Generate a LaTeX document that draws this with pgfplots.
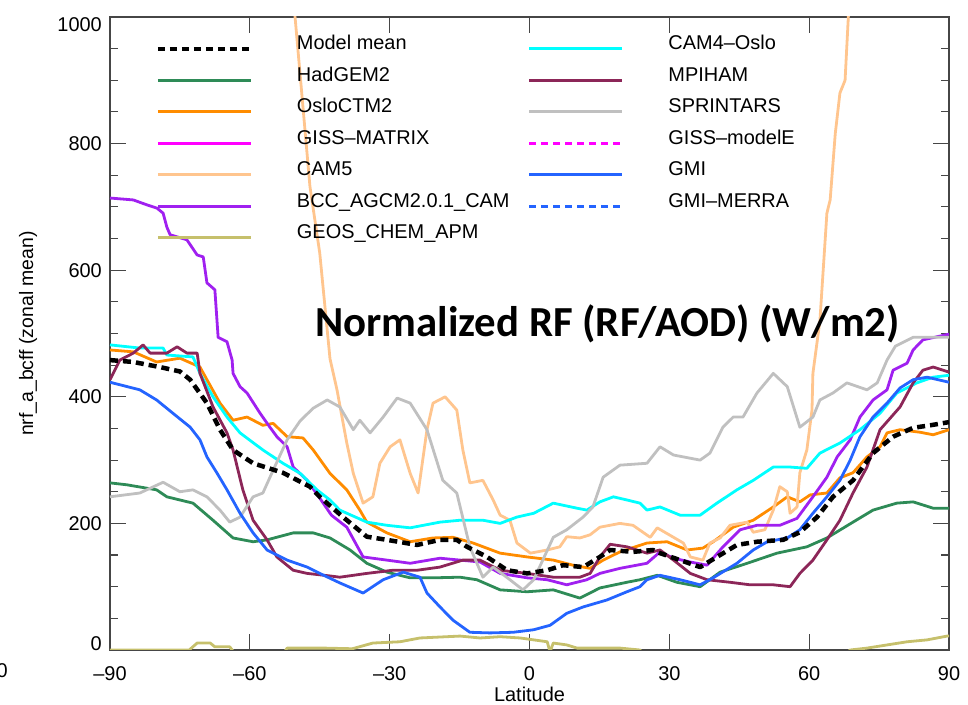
\documentclass[border=0pt]{standalone}
\usepackage{fontspec}
\setmainfont{Liberation Sans}
\newfontfamily\calibri{Carlito}
\usepackage{pgfplots}
\pgfplotsset{compat=1.18}

\definecolor{hadgem}{RGB}{46,139,87}
\definecolor{oslo}{RGB}{255,140,0}
\definecolor{gissm}{RGB}{255,0,255}
\definecolor{camfive}{RGB}{255,197,142}
\definecolor{bcc}{RGB}{160,32,240}
\definecolor{geos}{RGB}{198,192,108}
\definecolor{camfour}{RGB}{0,255,255}
\definecolor{mpi}{RGB}{140,38,88}
\definecolor{sprint}{RGB}{192,192,192}
\definecolor{gmi}{RGB}{36,100,255}
\definecolor{axgray}{RGB}{70,70,70}

\newcommand{\lt}[1]{\makebox[231bp][l]{\rule[-5bp]{0pt}{20bp}#1}}

\begin{document}
\begin{tikzpicture}
\path[use as bounding box] (-110bp,-55bp) rectangle (858bp,650bp);
\begin{axis}[
    width=839bp, height=633bp, scale only axis,
    xmin=-90, xmax=90, ymin=0, ymax=1000,
    xtick={-90,-60,-30,0,30,60,90},
    xticklabels={–90,–60,–30,0,30,60,90},
    ytick={0,200,400,600,800,1000},
    yticklabels={\raisebox{6.5bp}{0},200,400,600,800,\raisebox{-7bp}{1000}},
    minor y tick num=3,
    tick pos=both, tick align=inside,
    major tick length=16bp, minor tick length=8bp,
    tick style={axgray, line width=1.1bp},
    axis line style={axgray, line width=1.4bp},
    ticklabel style={font=\fontsize{20}{24}\selectfont},
    xticklabel style={anchor=base, inner sep=0pt, yshift=-30bp},
    yticklabel style={anchor=base east, inner sep=0pt, xshift=-8bp, yshift=-7.2bp},
    xlabel={Latitude},
    ylabel={nrf\_a\_bcff (zonal mean)},
    every axis x label/.style={at={(axis description cs:0.5,-0.0821)}, anchor=base,
        inner sep=0pt, font=\fontsize{20}{24}\selectfont},
    every axis y label/.style={at={(axis description cs:-0.0977,0.5)}, rotate=90, anchor=center,
        inner sep=0pt, font=\fontsize{19.5}{24}\selectfont},
    every axis plot/.append style={line width=2.8bp, line join=round},
    legend columns=2,
    legend image code/.code={\draw[#1] (0bp,1bp) -- (93bp,1bp); \path[draw=none] (0bp,0bp) (139bp,0bp);},
    legend style={at={(axis description cs:0.0545,0.9716)}, anchor=north west,
        draw=none, fill=none, inner sep=0pt, outer sep=0pt,
        column sep=0pt, row sep=15bp,
        cells={anchor=base west},
        nodes={inner sep=0pt},
        font=\fontsize{20}{24}\selectfont},
]
% HadGEM2
\addplot[hadgem, forget plot] coordinates {(-90,264)(-86.4,261)(-80,253)(-77.8,242)(-72.2,232)(-67.9,205)(-63.6,177)(-59.3,171)(-56.3,174)(-50.7,185)(-46.4,185)(-42.8,177)(-38.5,158)(-34.9,137)(-30.6,123)(-25.6,114)(-20.7,114)(-14.9,115)(-11.3,111)(-6.3,95)(-0.5,92)(5.1,95)(10.8,82)(15.1,98)(20.9,107)(23.7,111)(27.4,118)(31.6,107)(36.6,100)(40.9,123)(46.7,137)(53.1,153)(59.5,163)(63.8,177)(69.4,202)(73.7,221)(78.8,232)(82.3,234)(86.6,224)(90,224)};
% OsloCTM2
\addplot[oslo, forget plot] coordinates {(-90,474)(-85,471)(-80,455)(-75,461)(-70.7,447)(-69.2,427)(-66.4,390)(-63.6,363)(-60.6,368)(-57.2,355)(-55,358)(-52,337)(-48.6,335)(-46.4,316)(-42.8,279)(-39.2,253)(-36.4,221)(-34.9,202)(-30.6,185)(-25.6,171)(-20.7,177)(-16.4,178)(-12.1,169)(-6.3,153)(-0.5,147)(5.1,142)(9.3,134)(13,129)(15.8,142)(19.4,155)(25.2,169)(29.5,171)(33.8,158)(37.2,161)(39.4,171)(43.7,194)(48,205)(52.3,226)(55.3,242)(58,234)(60.2,245)(63.8,248)(66.6,272)(69.4,280)(72.4,305)(75.2,321)(76.7,343)(79.5,348)(83.8,344)(86.6,340)(90,348)};
% CAM5
\addplot[camfive, forget plot] coordinates {(-53,1190)(-50.3,1000)(-47.1,732)(-45,627)(-42.8,460)(-41.3,411)(-39.2,327)(-37.8,279)(-35.7,232)(-33.6,242)(-32.1,295)(-29.9,321)(-27.8,332)(-25.6,279)(-23.9,248)(-22,348)(-20.7,390)(-18.1,400)(-15.6,379)(-14.3,316)(-12.8,264)(-10,268)(-7.8,237)(-6.3,213)(-4.2,205)(-2.7,169)(0.2,153)(3.8,158)(6.5,163)(8,179)(10.8,177)(13,182)(15.1,194)(19.4,200)(22.2,197)(25.9,178)(27.4,193)(30.9,178)(33,169)(34.5,147)(37.2,142)(38.7,169)(40.9,177)(43,197)(46.7,202)(48,186)(50.5,190)(52.3,221)(53.7,258)(55.3,250)(55.9,216)(57.4,226)(58,280)(59.5,316)(60.6,379)(60.8,437)(62.3,520)(63.8,690)(64.5,711)(65.6,816)(66.6,880)(67.7,900)(68.4,1000)(69.2,1185)};
% BCC_AGCM2.0.1_CAM
\addplot[bcc, forget plot] coordinates {(-90,714)(-85,711)(-82,703)(-79.9,698)(-78.6,690)(-77.8,668)(-77.1,656)(-73.5,648)(-71.3,624)(-70,621)(-69.2,580)(-67.5,569)(-66.8,494)(-64.9,487)(-63.8,458)(-63.6,437)(-62.1,416)(-60.6,406)(-57.8,374)(-55.7,352)(-54.2,337)(-52,321)(-50.7,289)(-47.7,268)(-45,240)(-42.5,213)(-39.2,194)(-35.7,147)(-30.6,142)(-25.6,137)(-19.2,145)(-14.9,142)(-10.6,139)(-6.3,121)(-0.5,114)(3.8,111)(8,103)(12.3,111)(15.1,121)(19.4,129)(25.2,137)(28,155)(30.9,145)(34.5,139)(38.1,134)(41.5,163)(45.2,190)(48.8,197)(53.7,197)(57.4,208)(60.8,242)(63.8,273)(66,305)(68.8,332)(70.9,368)(73.7,395)(76.7,411)(78,442)(81,453)(82.3,474)(84.4,490)(90,499)};
% GEOS_CHEM_APM
\addplot[geos, forget plot] coordinates {(-90,0)(-73,0)(-71.3,11)(-68.5,11)(-67.5,5)(-64.3,5)(-63,-8)(-53,-8)(-52,3)(-44,3)(-38,2)(-33.6,11)(-27.8,13)(-23.5,19)(-14.9,22)(-10.6,19)(-6.3,21)(-2,19)(0.9,16)(3.8,13)(4.4,-3)(5.1,11)(8,8)(10.2,3)(19.4,3)(23.7,0)(25,-10)(67,-10)(68.8,0)(72.4,3)(76.7,8)(81,13)(85.3,16)(89.6,22)(90,22)};
% CAM4-Oslo
\addplot[camfour, forget plot] coordinates {(-90,482)(-83.6,477)(-78.6,477)(-77.8,466)(-72.2,463)(-70.7,437)(-67.9,400)(-64.9,368)(-62.1,343)(-57.2,316)(-52.9,295)(-49.2,279)(-45.6,253)(-42.8,237)(-40.7,221)(-34.9,202)(-30.6,197)(-25.6,193)(-19.2,202)(-14.9,205)(-10,205)(-6.3,200)(-2.7,210)(0.9,216)(5.1,232)(10.2,224)(12.3,221)(15.1,234)(18,242)(20.9,237)(23.7,232)(25.2,221)(28,226)(32.3,213)(36.6,213)(40.2,232)(44.5,253)(48,268)(52.3,289)(55.9,289)(59.5,287)(62.3,311)(66.6,327)(70.9,348)(75.2,374)(78.8,406)(83.1,422)(86.6,431)(90,434)};
% MPIHAM
\addplot[mpi, forget plot] coordinates {(-90,427)(-87.9,458)(-85,469)(-82.9,482)(-81.4,469)(-77.8,469)(-75.6,479)(-73.5,469)(-71.3,469)(-70.7,437)(-67.9,384)(-64.9,343)(-63.6,316)(-61.5,253)(-59.3,205)(-56.3,174)(-54.2,147)(-50.7,126)(-47.7,121)(-42.8,117)(-40.7,115)(-34.9,121)(-29.3,126)(-24.1,126)(-19.2,131)(-14.3,142)(-10.6,142)(-6.3,126)(-0.5,121)(5.1,115)(10.8,115)(13,121)(15.1,147)(17.3,167)(20.9,163)(25.2,153)(28,158)(30.9,142)(34.5,121)(38.1,111)(43,107)(47.3,103)(52.3,103)(55.9,100)(58,121)(60.8,142)(63.8,174)(66.6,205)(69.4,248)(72.4,289)(75.2,348)(79.5,384)(82.3,422)(84.4,442)(86.6,447)(90,439)};
% SPRINTARS
\addplot[sprint, forget plot] coordinates {(-90,242)(-83.6,248)(-78.6,265)(-75,250)(-72.2,253)(-69.2,242)(-66.4,221)(-64.3,202)(-62.1,210)(-59.3,242)(-57.2,248)(-55,284)(-52,332)(-49.2,362)(-46.4,382)(-43.4,395)(-40.7,384)(-37.8,348)(-36.4,363)(-34.2,343)(-31.4,368)(-28.4,398)(-25.6,390)(-22,348)(-18.6,268)(-15.6,248)(-12.8,163)(-10,115)(-7.8,131)(-4.2,111)(-1.4,95)(0.9,111)(5.1,178)(8,190)(11.5,210)(13.6,226)(15.8,273)(19.4,292)(25.2,295)(28,321)(30.9,308)(36.6,300)(38.7,311)(41.5,352)(43.7,368)(45.8,368)(48.8,406)(52.3,437)(55.3,416)(58,352)(60.8,368)(62.3,395)(65.1,406)(68.1,422)(72.4,411)(74.6,422)(76.7,458)(78.5,480)(82.3,494)(87.4,494)(90,494)};
% GMI
\addplot[gmi, forget plot] coordinates {(-90,423)(-83.6,411)(-80,395)(-76.5,374)(-72.8,352)(-70.7,332)(-69.2,305)(-67,279)(-64.9,253)(-62.1,216)(-59.3,185)(-56.3,158)(-52,142)(-47.7,131)(-45,121)(-40.7,106)(-35.7,90)(-31.4,111)(-27.1,123)(-23.5,115)(-22,90)(-19.2,68)(-16.4,47)(-12.8,28)(-8.5,27)(-3.5,28)(0.9,32)(4.4,39)(8,58)(11.5,68)(16.6,79)(20.9,92)(23.7,100)(25.2,111)(28,118)(32.3,111)(36.6,103)(39.4,114)(44.5,137)(48,158)(51,171)(55.3,177)(58,190)(60.8,216)(63.8,242)(66.6,268)(68.8,300)(70.9,337)(73.7,368)(76.7,390)(79.5,414)(82.3,427)(85.3,431)(90,423)};
% Model mean
\addplot[black, line width=4.5bp, dash pattern=on 8bp off 5bp, forget plot] coordinates {(-90,458)(-85,455)(-79.3,447)(-75,440)(-72.8,427)(-69.2,390)(-66.4,348)(-63.6,316)(-59.3,295)(-52.9,280)(-47.1,258)(-45,242)(-40,210)(-34.9,179)(-30.6,174)(-24.1,166)(-19.2,174)(-15.6,174)(-13.4,163)(-9.1,147)(-4.8,126)(-0.5,121)(3.8,126)(7.2,134)(11.5,131)(15.1,147)(17.3,158)(22.2,155)(26.5,158)(28,153)(32.3,142)(36.6,131)(40.2,147)(44.5,166)(48.8,171)(54.4,174)(58,186)(61.7,210)(65.1,242)(69.4,268)(73.7,311)(78,337)(82.3,351)(86,355)(90,360)};

\addlegendimage{black, line width=4.5bp, dash pattern=on 7bp off 5bp}
\addlegendentry{\lt{Model mean}}
\addlegendimage{camfour, line width=3bp}
\addlegendentry{\lt{CAM4–Oslo}}
\addlegendimage{hadgem, line width=3bp}
\addlegendentry{\lt{HadGEM2}}
\addlegendimage{mpi, line width=3bp}
\addlegendentry{\lt{MPIHAM}}
\addlegendimage{oslo, line width=3bp}
\addlegendentry{\lt{OsloCTM2}}
\addlegendimage{sprint, line width=3bp}
\addlegendentry{\lt{SPRINTARS}}
\addlegendimage{gissm, line width=3bp}
\addlegendentry{\lt{GISS–MATRIX}}
\addlegendimage{gissm, line width=3bp, dash pattern=on 7bp off 5bp}
\addlegendentry{\lt{GISS–modelE}}
\addlegendimage{camfive, line width=3bp}
\addlegendentry{\lt{CAM5}}
\addlegendimage{gmi, line width=3bp}
\addlegendentry{\lt{GMI}}
\addlegendimage{bcc, line width=3bp}
\addlegendentry{\lt{BCC\_AGCM2.0.1\_CAM}}
\addlegendimage{gmi, line width=3bp, dash pattern=on 7bp off 5bp}
\addlegendentry{\lt{GMI–MERRA}}
\addlegendimage{geos, line width=3bp}
\addlegendentry{\lt{GEOS\_CHEM\_APM}}

\node[anchor=base, inner sep=0pt, font=\calibri\bfseries\fontsize{43}{48}\selectfont]
  at (axis description cs:0.593,0.4945) {Normalized RF (RF/AOD) (W/m2)};
\end{axis}
\node[anchor=base east, inner sep=0pt, font=\fontsize{20}{24}\selectfont] at (-102bp,-27bp) {90};
\end{tikzpicture}
\end{document}
